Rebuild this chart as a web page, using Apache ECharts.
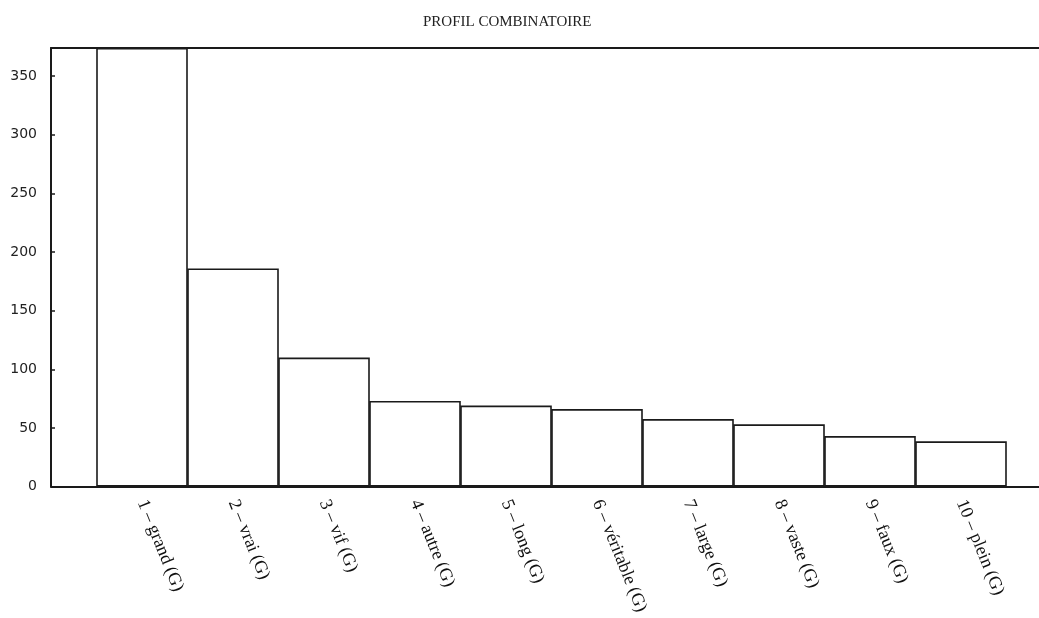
<!DOCTYPE html>
<html>
<head>
<meta charset="utf-8">
<script src="https://cdn.jsdelivr.net/npm/echarts@6/dist/echarts.min.js"></script>
<style>
html,body{margin:0;padding:0;background:#fff;overflow:hidden;width:1039px;height:618px;}
#chart{width:1070px;height:618px;}
</style>
</head>
<body>
<div id="chart"></div>
<script>
const categories = ['1 – grand (G)', '2 – vrai (G)', '3 – vif (G)', '4 – autre (G)', '5 – long (G)', '6 – véritable (G)', '7 – large (G)', '8 – vaste (G)', '9 – faux (G)', '10 – plein (G)'];
const values = [374, 186, 110, 73, 69, 66, 57.5, 53, 43, 38.5];
const yTicks = [0, 50, 100, 150, 200, 250, 300, 350];
const titleText = 'PROFIL COMBINATOIRE';

const chart = echarts.init(document.getElementById('chart'), null, {renderer: 'canvas'});
const data = values.map((v, i) => [i + 1, v]);
const lineStyle = {color: '#1a1a1a', width: 2};

chart.setOption({
  animation: false,
  backgroundColor: '#fff',
  title: {
    text: titleText,
    left: 418,
    top: 10,
    textStyle: {fontFamily: 'Liberation Serif', fontSize: 15, fontWeight: 'normal', color: '#222'}
  },
  grid: {left: 51, right: 18, top: 48, bottom: 131.5, containLabel: false},
  xAxis: [{
    type: 'value',
    position: 'bottom',
    min: 0,
    max: categories.length + 1,
    interval: 1,
    splitLine: {show: false},
    axisLine: {show: true, lineStyle: lineStyle},
    axisTick: {show: true, inside: true, length: 4, lineStyle: {color: '#1a1a1a', width: 1.5}},
    axisLabel: {
      show: true,
      rotate: -68,
      margin: 14,
      fontFamily: 'Liberation Serif',
      fontSize: 18,
      color: '#111',
      showMinLabel: true,
      showMaxLabel: true,
      formatter: function (v) {
        const i = Math.round(v);
        if (Math.abs(v - i) > 1e-6 || i < 1 || i > categories.length) return '';
        return categories[i - 1];
      }
    }
  }, {
    type: 'value',
    position: 'top',
    min: 0,
    max: categories.length + 1,
    splitLine: {show: false},
    axisLine: {show: true, lineStyle: lineStyle},
    axisTick: {show: false},
    axisLabel: {show: false}
  }],
  yAxis: {
    type: 'value',
    min: 0,
    max: values[0],
    interval: 50,
    splitLine: {show: false},
    axisLine: {show: true, lineStyle: lineStyle},
    axisTick: {show: true, inside: true, length: 4, lineStyle: {color: '#1a1a1a', width: 1.5}},
    axisLabel: {
      margin: 14,
      fontFamily: 'DejaVu Sans',
      fontSize: 14,
      color: '#222',
      showMaxLabel: false,
      formatter: function (v) { return yTicks.indexOf(v) >= 0 ? String(v) : ''; }
    }
  },
  series: [{
    type: 'bar',
    xAxisIndex: 0,
    data: data,
    barWidth: 91.6,
    itemStyle: {color: '#fff', borderColor: '#1a1a1a', borderWidth: 1.6}
  }]
});
</script>
</body>
</html>
